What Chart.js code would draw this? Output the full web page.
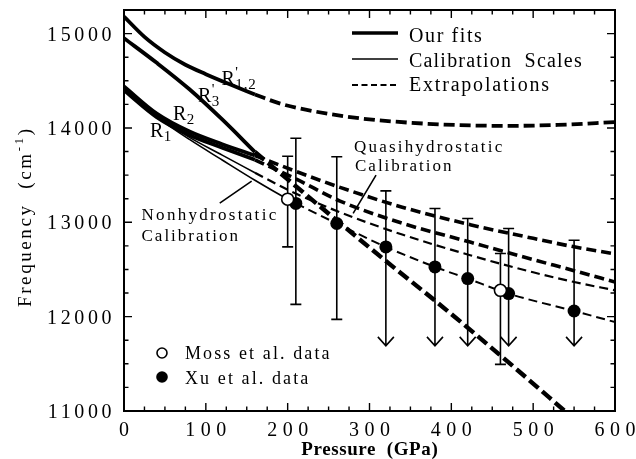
<!DOCTYPE html>
<html>
<head>
<meta charset="utf-8">
<script src="https://cdn.jsdelivr.net/npm/chart.js@4.4.1/dist/chart.umd.min.js"></script>
<style>
  html, body { margin: 0; padding: 0; background: #fff; }
  #wrap { width: 636px; height: 459px; }
</style>
</head>
<body>
<div id="wrap"><canvas id="c" width="636" height="459"></canvas></div>
<script>
// ---- axes ----
const pressureRange = [0, 600];
const frequencyRange = [11000, 15250];
const pressureTicks = [0, 100, 200, 300, 400, 500, 600];
const pressureTickLabels = ['0', '100', '200', '300', '400', '500', '600'];
const frequencyTicks = [11000, 12000, 13000, 14000, 15000];
const frequencyTickLabels = ['11000', '12000', '13000', '14000', '15000'];
const pressureMinorStep = 25;
const frequencyMinorStep = 250;

// ---- R'1,2 : fit (solid) and extrapolation (dashed) ----
const r12FitP = [0, 25, 50, 75, 100, 130, 160];
const r12FitF = [15180, 14965, 14800, 14670, 14570, 14460, 14355];
const r12ExtP = [160, 190, 230, 290, 350, 410, 470, 530, 600];
const r12ExtF = [14355, 14260, 14180, 14100, 14055, 14030, 14022, 14032, 14062];

// ---- R'3 ----
const r3FitP = [0, 40, 80, 120, 160];
const r3FitF = [14951, 14690, 14410, 14090, 13745];
const r3ExtP = [160, 200, 260, 320, 380, 430, 480, 540];
const r3ExtF = [13745, 13455, 13020, 12590, 12170, 11810, 11440, 10990];

// ---- R2 ----
const r2FitP = [0, 40, 80, 120, 160];
const r2FitF = [14440, 14152, 13962, 13828, 13708];
const r2ExtP = [160, 210, 264, 340, 423, 500, 550, 600];
const r2ExtF = [13708, 13540, 13370, 13160, 12975, 12830, 12740, 12665];

// ---- R1 ----
const r1FitP = [0, 40, 80, 120, 160];
const r1FitF = [14400, 14115, 13925, 13790, 13662];
const r1ExtP = [160, 210, 264, 340, 423, 500, 550, 600];
const r1ExtF = [13662, 13460, 13225, 12990, 12790, 12605, 12487, 12367];

// ---- quasihydrostatic calibration scale ----
const quasiP = [0, 40, 80, 120, 160];
const quasiF = [14405, 14125, 13900, 13712, 13525];
const quasiExtP = [160, 200, 264, 340, 423, 500, 550, 600];
const quasiExtF = [13525, 13345, 13106, 12870, 12651, 12470, 12367, 12279];

// ---- nonhydrostatic calibration scale ----
const nonhydroP = [0, 40, 80, 120, 160, 200, 210];
const nonhydroF = [14405, 14118, 13878, 13660, 13445, 13245, 13200];
const nonhydroExtP = [210, 260, 320, 380, 420, 470, 550, 600];
const nonhydroExtF = [13200, 12987, 12739, 12527, 12403, 12244, 12060, 11943];

// ---- measurements ----
const xuP = [210, 260, 320, 380, 420, 470, 550];
const xuF = [13200, 12987, 12739, 12527, 12403, 12244, 12060];
const xuHigh = [13890, 13694, 13333, 13146, 13040, 12934, 12810];
const xuLow = [12130, 11971, 11690, 11690, 11690, 11690, 11690];
const xuLowIsLimit = [false, false, true, true, true, true, true];

const mossP = [200, 460];
const mossF = [13245, 12279];
const mossHigh = [13700, 12670];
const mossLow = [12740, 11494];
const mossLowIsLimit = [false, false];

const SERIF = '"Liberation Serif", "Times New Roman", serif';

function pts(xs, ys) { return xs.map((x, i) => ({ x: x, y: ys[i] })); }

function curve(label, xs, ys, width, dash) {
  return {
    label: label,
    data: pts(xs, ys),
    showLine: true,
    borderColor: '#000',
    borderWidth: width,
    borderDash: dash || [],
    borderCapStyle: 'butt',
    pointRadius: 0,
    fill: false,
    cubicInterpolationMode: 'monotone',
    order: 1
  };
}

function spacedText(ctx, s, x, y, font, spacing, align) {
  ctx.font = font;
  ctx.letterSpacing = spacing + 'px';
  const w = ctx.measureText(s).width - spacing;
  let left = x;
  if (align === 'center') left = x - w / 2;
  else if (align === 'right') left = x - w;
  ctx.textAlign = 'left';
  ctx.fillText(s, left, y);
  ctx.letterSpacing = '0px';
  return w;
}

function rLabel(ctx, x, y, prime, sub) {
  ctx.textAlign = 'left';
  ctx.textBaseline = 'alphabetic';
  ctx.letterSpacing = '0px';
  ctx.font = '20px ' + SERIF;
  ctx.fillText('R', x, y);
  const w = ctx.measureText('R').width;
  if (prime) {
    ctx.font = '15px ' + SERIF;
    ctx.fillText("'", x + w + 0.5, y - 8);
  }
  ctx.font = '15px ' + SERIF;
  ctx.letterSpacing = '0.8px';
  ctx.fillText(sub, x + w + 0.5, y + 4);
  ctx.letterSpacing = '0px';
}

function errorBars(ctx, xs, ys, hi, lo, limit, xScale, yScale) {
  const cap = 5.5;
  for (let i = 0; i < xs.length; i++) {
    const px = xScale.getPixelForValue(xs[i]);
    const top = yScale.getPixelForValue(hi[i]);
    const bot = yScale.getPixelForValue(lo[i]);
    ctx.beginPath();
    ctx.moveTo(px, top);
    ctx.lineTo(px, bot);
    ctx.moveTo(px - cap, top);
    ctx.lineTo(px + cap, top);
    if (limit[i]) {
      ctx.moveTo(px - 8, bot - 9);
      ctx.lineTo(px, bot);
      ctx.lineTo(px + 8, bot - 9);
    } else {
      ctx.moveTo(px - cap, bot);
      ctx.lineTo(px + cap, bot);
    }
    ctx.stroke();
  }
}

const decor = {
  id: 'decor',
  beforeDatasetsDraw(chart) {
    const ctx = chart.ctx;
    const xs = chart.scales.x, ys = chart.scales.y;
    ctx.save();
    ctx.strokeStyle = '#000';
    ctx.lineWidth = 1.6;
    ctx.setLineDash([]);
    errorBars(ctx, xuP, xuF, xuHigh, xuLow, xuLowIsLimit, xs, ys);
    errorBars(ctx, mossP, mossF, mossHigh, mossLow, mossLowIsLimit, xs, ys);
    ctx.restore();
  },
  afterDraw(chart) {
    const ctx = chart.ctx;
    const a = chart.chartArea;
    const xs = chart.scales.x, ys = chart.scales.y;
    ctx.save();
    ctx.strokeStyle = '#000';
    ctx.fillStyle = '#000';
    ctx.setLineDash([]);

    // frame
    ctx.lineWidth = 2;
    ctx.strokeRect(a.left, a.top, a.right - a.left, a.bottom - a.top);

    // ticks on all four sides, pointing inward
    ctx.lineWidth = 1.4;
    ctx.beginPath();
    for (let v = pressureRange[0]; v <= pressureRange[1]; v += pressureMinorStep) {
      const px = xs.getPixelForValue(v);
      const len = (v % 100 === 0) ? 8 : 4.5;
      ctx.moveTo(px, a.bottom); ctx.lineTo(px, a.bottom - len);
      ctx.moveTo(px, a.top); ctx.lineTo(px, a.top + len);
    }
    for (let v = frequencyRange[0]; v <= frequencyRange[1]; v += frequencyMinorStep) {
      const py = ys.getPixelForValue(v);
      const len = (v % 1000 === 0) ? 8 : 4.5;
      ctx.moveTo(a.left, py); ctx.lineTo(a.left + len, py);
      ctx.moveTo(a.right, py); ctx.lineTo(a.right - len, py);
    }
    ctx.stroke();

    // tick labels
    ctx.textBaseline = 'alphabetic';
    pressureTicks.forEach((v, i) => {
      spacedText(ctx, pressureTickLabels[i], xs.getPixelForValue(v), a.bottom + 24.5,
        '20px ' + SERIF, 5.5, 'center');
    });
    frequencyTicks.forEach((v, i) => {
      spacedText(ctx, frequencyTickLabels[i], a.left - 12.5, ys.getPixelForValue(v) + 7,
        '20px ' + SERIF, 3.6, 'right');
    });

    // axis titles
    spacedText(ctx, 'Pressure  (GPa)', (a.left + a.right) / 2, 455, 'bold 19px ' + SERIF, 0.6, 'center');

    ctx.save();
    ctx.translate(31, 218);
    ctx.rotate(-Math.PI / 2);
    {
      const f = '19px ' + SERIF, sp = 2.6;
      ctx.font = f; ctx.letterSpacing = sp + 'px';
      const w1 = ctx.measureText('Frequency  (cm').width;
      ctx.font = '13px ' + SERIF;
      const w2 = ctx.measureText('-1').width;
      ctx.font = f;
      const w3 = ctx.measureText(')').width - sp;
      const x0 = -(w1 + w2 + w3) / 2;
      ctx.fillText('Frequency  (cm', x0, 0);
      ctx.font = '13px ' + SERIF;
      ctx.fillText('-1', x0 + w1, -8);
      ctx.font = f;
      ctx.fillText(')', x0 + w1 + w2, 0);
      ctx.letterSpacing = '0px';
    }
    ctx.restore();

    // curve labels
    rLabel(ctx, 221.5, 85, true, '1,2');
    rLabel(ctx, 198, 102, true, '3');
    rLabel(ctx, 173, 120, false, '2');
    rLabel(ctx, 150, 137, false, '1');

    // calibration annotations with leader lines
    const annFont = '17px ' + SERIF;
    spacedText(ctx, 'Nonhydrostatic', 141.5, 219.5, annFont, 2.3, 'left');
    spacedText(ctx, 'Calibration', 141.5, 240.5, annFont, 2.0, 'left');
    spacedText(ctx, 'Quasihydrostatic', 354, 152, annFont, 2.2, 'left');
    spacedText(ctx, 'Calibration', 355, 171, annFont, 2.0, 'left');
    ctx.lineWidth = 1.6;
    ctx.beginPath();
    ctx.moveTo(xs.getPixelForValue(117), ys.getPixelForValue(13204));
    ctx.lineTo(xs.getPixelForValue(156), ys.getPixelForValue(13437));
    ctx.moveTo(xs.getPixelForValue(308), ys.getPixelForValue(13500));
    ctx.lineTo(xs.getPixelForValue(280), ys.getPixelForValue(13095));
    ctx.stroke();

    // line-style key
    const keyFont = '20px ' + SERIF;
    ctx.lineWidth = 3.6;
    ctx.beginPath(); ctx.moveTo(352, 33); ctx.lineTo(398, 33); ctx.stroke();
    ctx.lineWidth = 1.6;
    ctx.beginPath(); ctx.moveTo(352, 59); ctx.lineTo(398, 59); ctx.stroke();
    ctx.lineWidth = 1.8;
    ctx.setLineDash([6, 3.5]);
    ctx.beginPath(); ctx.moveTo(352, 85); ctx.lineTo(398, 85); ctx.stroke();
    ctx.setLineDash([]);
    spacedText(ctx, 'Our fits', 409, 41.5, keyFont, 1.6, 'left');
    spacedText(ctx, 'Calibration  Scales', 409, 66.5, keyFont, 1.2, 'left');
    spacedText(ctx, 'Extrapolations', 409, 91, keyFont, 1.8, 'left');

    // data key
    ctx.lineWidth = 1.6;
    ctx.fillStyle = '#fff';
    ctx.beginPath(); ctx.arc(162, 353, 5, 0, Math.PI * 2); ctx.fill(); ctx.stroke();
    ctx.fillStyle = '#000';
    ctx.beginPath(); ctx.arc(162, 377, 5.8, 0, Math.PI * 2); ctx.fill();
    spacedText(ctx, 'Moss et al. data', 185, 358.5, '18px ' + SERIF, 2.1, 'left');
    spacedText(ctx, 'Xu et al. data', 185, 383.5, '18px ' + SERIF, 2.1, 'left');

    ctx.restore();
  }
};

new Chart(document.getElementById('c'), {
  type: 'scatter',
  data: {
    datasets: [
      {
        label: 'Moss et al. data',
        data: pts(mossP, mossF),
        showLine: false,
        pointRadius: 6,
        pointBackgroundColor: '#fff',
        pointBorderColor: '#000',
        pointBorderWidth: 1.6,
        order: 0
      },
      {
        label: 'Xu et al. data',
        data: pts(xuP, xuF),
        showLine: false,
        pointRadius: 6.5,
        pointBackgroundColor: '#000',
        pointBorderColor: '#000',
        pointBorderWidth: 0,
        order: 0
      },
      curve("R'1,2", r12FitP, r12FitF, 3.8),
      curve("R'1,2 extrapolation", r12ExtP, r12ExtF, 3.8, [11, 5]),
      curve("R'3", r3FitP, r3FitF, 3.8),
      curve("R'3 extrapolation", r3ExtP, r3ExtF, 4.4, [12, 5]),
      curve('R2', r2FitP, r2FitF, 3.8),
      curve('R2 extrapolation', r2ExtP, r2ExtF, 3.6, [10, 5]),
      curve('R1', r1FitP, r1FitF, 3.8),
      curve('R1 extrapolation', r1ExtP, r1ExtF, 3.6, [10, 5]),
      curve('Quasihydrostatic calibration', quasiP, quasiF, 1.6),
      curve('Quasihydrostatic extrapolation', quasiExtP, quasiExtF, 2.2, [9, 5]),
      curve('Nonhydrostatic calibration', nonhydroP, nonhydroF, 1.6),
      curve('Nonhydrostatic extrapolation', nonhydroExtP, nonhydroExtF, 2.0, [9, 5])
    ]
  },
  options: {
    responsive: false,
    devicePixelRatio: 1,
    animation: false,
    events: [],
    layout: { padding: { left: 124, right: 21, top: 10, bottom: 48 } },
    plugins: { legend: { display: false }, tooltip: { enabled: false } },
    scales: {
      x: { type: 'linear', min: pressureRange[0], max: pressureRange[1], display: false },
      y: { type: 'linear', min: frequencyRange[0], max: frequencyRange[1], display: false }
    }
  },
  plugins: [decor]
});
</script>
</body>
</html>
